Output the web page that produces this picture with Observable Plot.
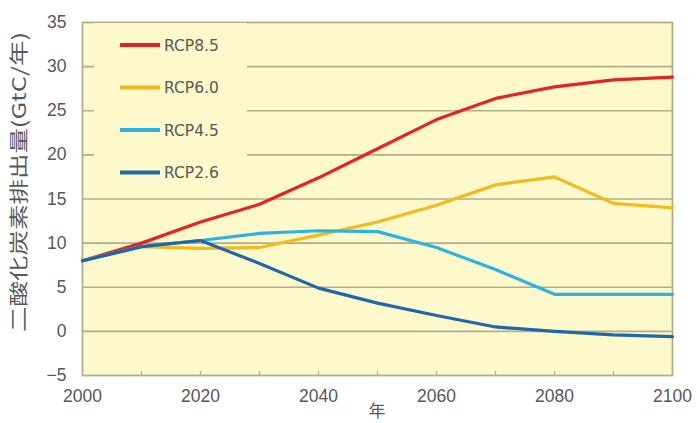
<!DOCTYPE html>
<html>
<head>
<meta charset="utf-8">
<script src="https://cdn.jsdelivr.net/npm/d3@7"></script>
<script src="https://cdn.jsdelivr.net/npm/@observablehq/plot@0.6"></script>
<style>
  html, body { margin: 0; padding: 0; background: #ffffff; }
  #chart svg { display: block; }
</style>
</head>
<body>
<div id="chart"></div>
<script>
// ---- data ----
const years = [2000, 2010, 2020, 2030, 2040, 2050, 2060, 2070, 2080, 2090, 2100];
const seriesNames = ["RCP8.5", "RCP6.0", "RCP4.5", "RCP2.6"];
const rcp85 = [8.0, 10.0, 12.4, 14.4, 17.4, 20.7, 24.0, 26.4, 27.7, 28.5, 28.8];
const rcp60 = [8.0, 9.6, 9.4, 9.5, 10.9, 12.4, 14.3, 16.6, 17.5, 14.5, 14.0];
const rcp45 = [8.0, 9.6, 10.3, 11.1, 11.4, 11.3, 9.5, 7.0, 4.2, 4.2, 4.2];
const rcp26 = [8.0, 9.6, 10.3, 7.7, 4.9, 3.2, 1.8, 0.5, 0.0, -0.4, -0.6];
const yTicks = [-5, 0, 5, 10, 15, 20, 25, 30, 35];
const xLabelTicks = [2000, 2020, 2040, 2060, 2080, 2100];
const xMinorTicks = [2010, 2020, 2030, 2040, 2050, 2060, 2070, 2080, 2090];
const yTitle = "二酸化炭素排出量(GtC/年)";
const xTitle = "年";

const colors = ["#e52325", "#f1bb1f", "#2bb4e2", "#1f68a8"];
const bg = "#fdf9cb";
const gridColor = "#b3ad8f";
const textColor = "#585858";

const allSeries = [rcp85, rcp60, rcp45, rcp26];
const rows = [];
allSeries.forEach((vals, i) => {
  vals.forEach((v, j) => rows.push({year: years[j], value: v, series: seriesNames[i]}));
});

const W = 697, H = 423;
const chart = Plot.plot({
  width: W,
  height: H,
  marginLeft: 82,
  marginRight: 25,
  marginTop: 22,
  marginBottom: 48,
  style: {background: "#ffffff", fontFamily: "'Liberation Sans', Arial, sans-serif"},
  x: {domain: [2000, 2100]},
  y: {domain: [-5, 35]},
  color: {domain: seriesNames, range: colors},
  marks: [
    Plot.frame({fill: bg, stroke: null}),
    Plot.ruleY(yTicks.filter(d => d > -5 && d < 35), {stroke: gridColor, strokeWidth: 1.6}),
    Plot.axisX(xMinorTicks, {tickSize: -4, tickFormat: () => "", stroke: gridColor, strokeWidth: 1.2, label: null}),
    Plot.axisX(xLabelTicks, {tickSize: 0, tickPadding: 14, fontSize: 17.5, fill: textColor, label: null, tickFormat: d => String(d)}),
    Plot.axisY(yTicks, {tickSize: 0, tickPadding: 16, fontSize: 17.5, fill: textColor, label: null}),
    Plot.frame({stroke: gridColor, strokeWidth: 1.8}),
    Plot.line(rows, {x: "year", y: "value", z: "series", stroke: "series", strokeWidth: 3.2, curve: "linear"})
  ]
});
document.getElementById("chart").appendChild(chart);

const svg = d3.select(chart);
// mask behind legend (gridlines interrupted there)
svg.append("rect")
  .attr("x", 94).attr("y", 23).attr("width", 153).attr("height", 160)
  .attr("fill", bg);

// legend
const leg = svg.append("g").attr("text-anchor", "start");
seriesNames.forEach((name, i) => {
  const y = 45 + i * 42.5;
  leg.append("line")
    .attr("x1", 120).attr("x2", 160).attr("y1", y).attr("y2", y)
    .attr("stroke", colors[i]).attr("stroke-width", 4);
  leg.append("text")
    .attr("x", 164).attr("y", y).attr("dy", "0.36em")
    .attr("text-anchor", "start")
    .attr("font-size", 15.5).attr("fill", textColor)
    .attr("font-family", "'DejaVu Sans', sans-serif")
    .text(name);
});

// y title
svg.append("text")
  .attr("transform", "translate(19,182) rotate(-90)")
  .attr("text-anchor", "middle").attr("dy", "0.35em")
  .attr("font-size", 19)
  .attr("font-family", "'Noto Sans CJK JP', sans-serif")
  .attr("fill", textColor)
  .attr("textLength", 300).attr("lengthAdjust", "spacingAndGlyphs")
  .text(yTitle);

// x title
svg.append("text")
  .attr("x", 377).attr("y", 411)
  .attr("text-anchor", "middle").attr("dy", "0.35em")
  .attr("font-size", 17)
  .attr("font-family", "'Noto Sans CJK JP', sans-serif")
  .attr("fill", textColor)
  .text(xTitle);
</script>
</body>
</html>
